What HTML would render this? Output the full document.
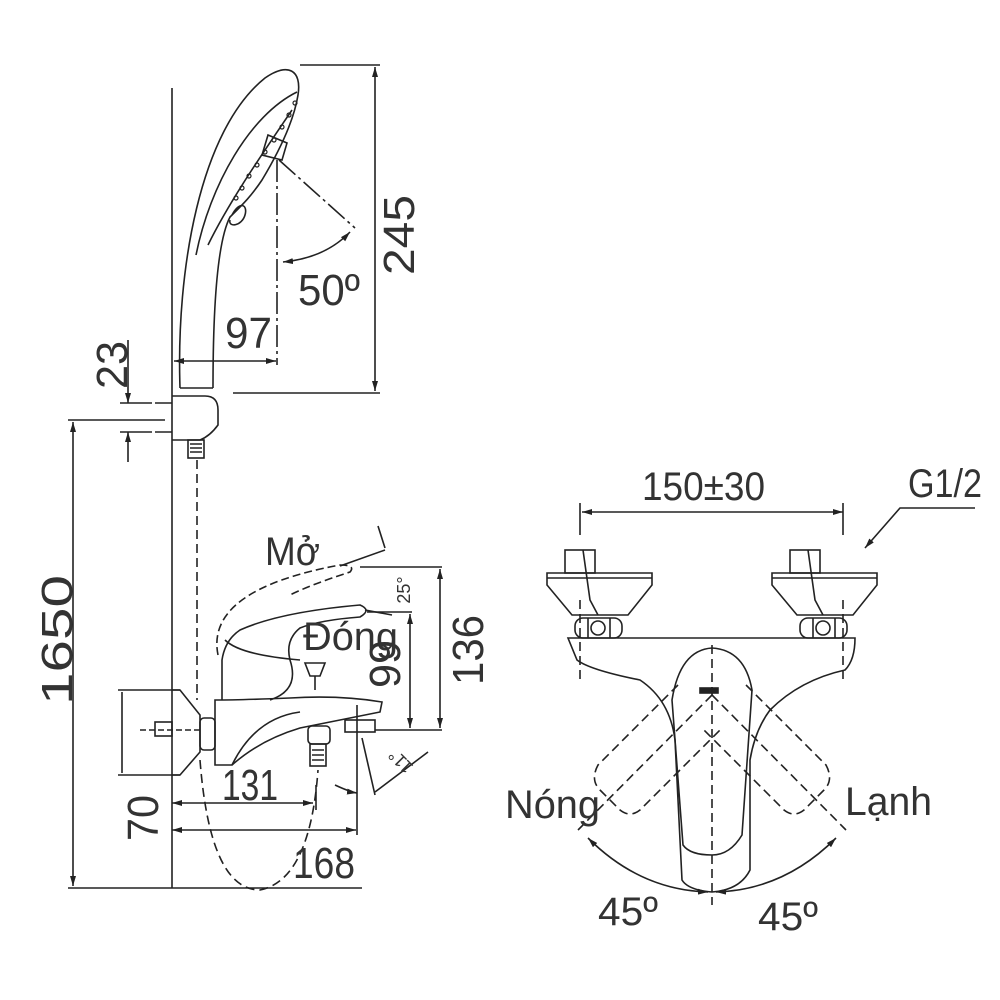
<!DOCTYPE html>
<html><head><meta charset="utf-8"><style>
html,body{margin:0;padding:0;background:#fff;}
svg{display:block}
text{font-family:"Liberation Sans",sans-serif;fill:#333;}
</style></head><body>
<svg width="1000" height="1000" viewBox="0 0 1000 1000" xmlns="http://www.w3.org/2000/svg">
<defs>
<marker id="a" viewBox="0 0 10 6" refX="10" refY="3" markerWidth="10" markerHeight="6" orient="auto-start-reverse" markerUnits="userSpaceOnUse"><path d="M0,0 L10,3 L0,6z" fill="#222"/></marker>
</defs>
<g stroke="#222" stroke-width="1.6" fill="none">
<line x1="172" y1="88" x2="172" y2="888"/>
<line x1="68" y1="888" x2="362" y2="888"/>
<line x1="68" y1="420" x2="165" y2="420"/>
<line x1="73" y1="422" x2="73" y2="886" marker-start="url(#a)" marker-end="url(#a)"/>
<path d="M180,388 C176,270 200,130 265,78 C288,62 302,70 298,95 C294,120 280,150 262,180 C250,198 240,207 230,217 C218,240 213,300 213,388"/>
<path d="M196,255 C210,185 250,115 297,92"/>
<path d="M208,245 C230,200 265,150 292,110"/>
<path d="M232,215 C240,200 248,205 245,215 C242,226 228,228 230,220"/>
<path d="M268,135 L287,143 L282,160 L262,155z"/>
<g stroke-width="1.2">
<circle cx="295" cy="103" r="2"/><circle cx="289" cy="115" r="2"/><circle cx="282" cy="127" r="2"/><circle cx="274" cy="140" r="2"/><circle cx="265" cy="152" r="2"/><circle cx="257" cy="165" r="2"/><circle cx="249" cy="176" r="2"/><circle cx="242" cy="188" r="2"/><circle cx="236" cy="198" r="2"/>
</g>
<path d="M180,388 L213,388"/>
<path d="M172,396 L205,396 Q218,396 218,410 L218,425 Q210,436 200,440 L172,440"/>
<path d="M155,403 L172,403 M155,432 L172,432"/>
<rect x="188" y="440" width="16" height="18"/>
<path d="M190,444 H202 M190,448 H202 M190,452 H202"/>
<line x1="128" y1="340" x2="128" y2="403" marker-end="url(#a)"/>
<line x1="128" y1="432" x2="128" y2="462" marker-start="url(#a)"/>
<line x1="120" y1="403" x2="152" y2="403"/><line x1="120" y1="432" x2="152" y2="432"/>
<line x1="300" y1="65" x2="380" y2="65"/>
<line x1="233" y1="393" x2="380" y2="393"/>
<line x1="375" y1="67" x2="375" y2="391" marker-start="url(#a)" marker-end="url(#a)"/>
<line x1="174" y1="361" x2="276" y2="361" marker-start="url(#a)" marker-end="url(#a)"/>
<line x1="277" y1="160" x2="277" y2="365" stroke-dasharray="22,4,3,4"/>
<line x1="279" y1="160" x2="355" y2="228" stroke-dasharray="22,4,3,4"/>
<path d="M350,232 Q325,258 283,262" marker-start="url(#a)" marker-end="url(#a)"/>
<path d="M197,460 L197,700 M200,760 Q210,890 260,890 Q310,880 318,770" stroke-dasharray="9,5"/>
<path d="M172,690 L180,690 L200,715 L200,752 L180,775 L172,775"/>
<line x1="118" y1="690" x2="180" y2="690"/><line x1="118" y1="775" x2="180" y2="775"/>
<line x1="122" y1="692" x2="122" y2="773"/>
<rect x="155" y="722" width="17" height="14"/>
<line x1="140" y1="730" x2="200" y2="730" stroke-dasharray="6,3"/>
<rect x="200" y="718" width="15" height="32" rx="4"/>
<path d="M215,700 L215,765 L232,765 Q260,740 300,728 Q350,718 380,712 L382,702 Q340,695 290,698 Q240,700 215,700z"/>
<path d="M232,765 Q255,718 300,712"/>
<path d="M222,700 L222,660 Q225,640 240,630 Q280,612 360,605 Q372,610 360,617 Q320,620 300,628 Q285,640 290,660 Q300,690 270,700"/>
<path d="M225,640 Q240,655 300,660"/>
<path d="M218,655 Q205,590 340,565 Q356,565 350,572 Q310,585 290,595" stroke-dasharray="8,4"/>
<path d="M340,566 L385,550 M378,526 L385,548"/>
<path d="M365,610 L392,615"/>
<path d="M305,663 L325,663 L320,676 L310,676z M315,676 L315,690"/>
<rect x="308" y="726" width="22" height="18" rx="4"/>
<rect x="310" y="744" width="16" height="22"/>
<path d="M312,750 H324 M312,755 H324 M312,760 H324"/>
<rect x="345" y="720" width="30" height="12"/>
<line x1="172" y1="803" x2="313" y2="803" marker-start="url(#a)" marker-end="url(#a)"/>
<line x1="316" y1="785" x2="316" y2="810"/>
<line x1="172" y1="830" x2="356" y2="830" marker-start="url(#a)" marker-end="url(#a)"/>
<line x1="357" y1="705" x2="357" y2="835"/>
<line x1="360" y1="567" x2="442" y2="567"/>
<line x1="375" y1="730" x2="442" y2="730"/>
<line x1="367" y1="612" x2="412" y2="612"/>
<line x1="440" y1="569" x2="440" y2="728" marker-start="url(#a)" marker-end="url(#a)"/>
<line x1="410" y1="614" x2="410" y2="728" marker-start="url(#a)" marker-end="url(#a)"/>
<line x1="362" y1="738" x2="375" y2="795"/>
<path d="M335,785 Q350,792 357,793" marker-end="url(#a)"/>
<path d="M375,792 L428,752"/>
<line x1="582" y1="512" x2="843" y2="512" marker-start="url(#a)" marker-end="url(#a)"/>
<line x1="580" y1="503" x2="580" y2="535"/><line x1="843" y1="503" x2="843" y2="535"/>
<path d="M975,508 L900,508 L865,548" marker-end="url(#a)"/>
<g id="fl">
<rect x="565" y="550" width="30" height="23"/>
<path d="M547,573 L652,573 L652,585 L628,615 L572,615 L547,585z M547,578 L652,578"/>
<rect x="575" y="618" width="47" height="20" rx="8"/>
<path d="M588,618 V638 M610,618 V638 M583,550 L590,600 L598,615"/>
<circle cx="598" cy="628" r="7"/>
</g>
<use href="#fl" transform="translate(225,0)"/>
<path d="M568,638 L855,638 Q855,660 845,670 Q800,680 770,710 Q755,730 750,760 L750,870 Q740,890 712,892 Q688,890 682,880 L675,740 Q670,700 640,680 Q590,670 577,660 Z"/>
<path d="M672,700 Q680,650 712,648 Q745,650 752,690 L742,835 Q730,855 712,855 Q690,855 683,845 Z"/>
<rect x="700" y="688" width="18" height="5" fill="#222"/>
<g stroke-dasharray="9,5">
<line x1="580" y1="600" x2="580" y2="680"/><line x1="843" y1="600" x2="843" y2="680"/>
<line x1="712" y1="645" x2="712" y2="905"/>
<path d="M678,685 L598,765 Q590,780 600,790 L620,810 Q630,818 640,810 L720,730"/>
<path d="M746,685 L826,765 Q834,780 824,790 L804,810 Q794,818 784,810 L704,730"/>
<line x1="712" y1="695" x2="578" y2="830"/><line x1="712" y1="695" x2="846" y2="830"/>
</g>
<path d="M588,838 Q640,890 708,892" marker-start="url(#a)" marker-end="url(#a)"/>
<path d="M836,838 Q784,890 716,892" marker-start="url(#a)" marker-end="url(#a)"/>
</g>
<g font-size="44" lengthAdjust="spacingAndGlyphs">
<text transform="translate(72,640) rotate(-90)" x="-65" textLength="130" lengthAdjust="spacingAndGlyphs">1650</text>
<text transform="translate(414,235) rotate(-90)" x="-40" textLength="80" lengthAdjust="spacingAndGlyphs">245</text>
<text transform="translate(127,365) rotate(-90)" x="-24" textLength="48" lengthAdjust="spacingAndGlyphs">23</text>
<text transform="translate(158,818) rotate(-90)" x="-23" textLength="46" lengthAdjust="spacingAndGlyphs">70</text>
<text transform="translate(483,650) rotate(-90)" x="-35" textLength="70" lengthAdjust="spacingAndGlyphs">136</text>
<text transform="translate(400,664) rotate(-90)" x="-24" textLength="48" lengthAdjust="spacingAndGlyphs">99</text>
<text x="225" y="348" textLength="47" lengthAdjust="spacingAndGlyphs">97</text>
<text x="298" y="305" textLength="62" lengthAdjust="spacingAndGlyphs">50º</text>
<text x="222" y="800" textLength="56" lengthAdjust="spacingAndGlyphs">131</text>
<text x="293" y="878" textLength="62" lengthAdjust="spacingAndGlyphs">168</text>
<text x="265" y="565" font-size="40" textLength="55" lengthAdjust="spacingAndGlyphs">Mở</text>
<text x="303" y="650" font-size="40" textLength="95" lengthAdjust="spacingAndGlyphs">Đóng</text>
<text x="642" y="500" font-size="40" textLength="123" lengthAdjust="spacingAndGlyphs">150±30</text>
<text x="908" y="497" font-size="40" textLength="74" lengthAdjust="spacingAndGlyphs">G1/2</text>
<text x="505" y="818" font-size="40" textLength="95" lengthAdjust="spacingAndGlyphs">Nóng</text>
<text x="845" y="815" font-size="40" textLength="87" lengthAdjust="spacingAndGlyphs">Lạnh</text>
<text x="598" y="925" font-size="40" textLength="60" lengthAdjust="spacingAndGlyphs">45º</text>
<text x="758" y="930" font-size="40" textLength="60" lengthAdjust="spacingAndGlyphs">45º</text>
<text transform="translate(410,590) rotate(-90)" text-anchor="middle" font-size="18">25°</text>
<text transform="translate(405,757) rotate(-135)" text-anchor="middle" font-size="18">11°</text>
</g>
</svg>
</body></html>
